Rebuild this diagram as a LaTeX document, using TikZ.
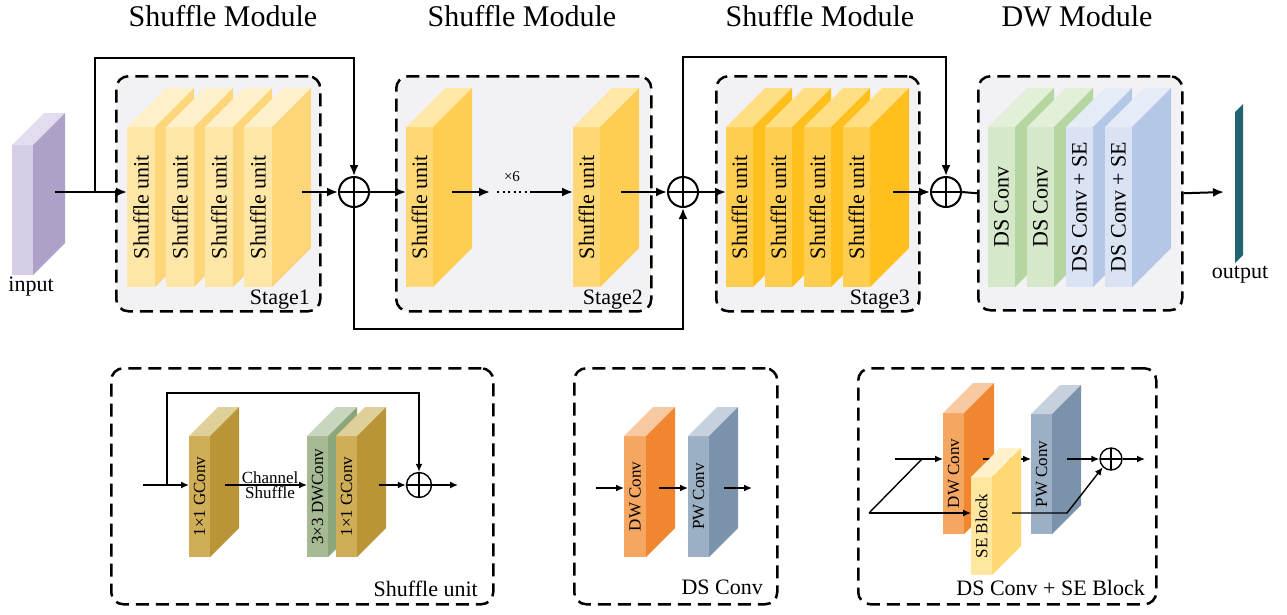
\documentclass[tikz,border=0pt]{standalone}
\usepackage{fontspec}
\setmainfont{Liberation Serif}
\usetikzlibrary{arrows.meta, calc}

% face colours of the slabs (front / side / top)
\definecolor{inpfront}{RGB}{214,206,231}
\definecolor{inpside}{RGB}{173,161,200}
\definecolor{inptop}{RGB}{227,221,239}
\definecolor{safront}{RGB}{254,231,166}
\definecolor{saside}{RGB}{254,214,122}
\definecolor{satop}{RGB}{254,240,202}
\definecolor{sbfront}{RGB}{255,216,118}
\definecolor{sbside}{RGB}{255,205,82}
\definecolor{sbtop}{RGB}{255,232,168}
\definecolor{scfront}{RGB}{255,206,80}
\definecolor{scside}{RGB}{255,192,30}
\definecolor{sctop}{RGB}{255,222,132}
\definecolor{dsgfront}{RGB}{214,232,202}
\definecolor{dsgside}{RGB}{182,214,161}
\definecolor{dsgtop}{RGB}{226,239,217}
\definecolor{dsbfront}{RGB}{218,227,243}
\definecolor{dsbside}{RGB}{180,199,231}
\definecolor{dsbtop}{RGB}{229,235,247}
\definecolor{gcfront}{RGB}{208,174,88}
\definecolor{gcside}{RGB}{186,149,56}
\definecolor{gctop}{RGB}{223,207,152}
\definecolor{gdfront}{RGB}{165,186,146}
\definecolor{gdside}{RGB}{138,166,122}
\definecolor{gdtop}{RGB}{200,214,190}
\definecolor{dwfront}{RGB}{245,166,96}
\definecolor{dwside}{RGB}{240,135,48}
\definecolor{dwtop}{RGB}{248,202,162}
\definecolor{pwfront}{RGB}{156,176,197}
\definecolor{pwside}{RGB}{122,146,170}
\definecolor{pwtop}{RGB}{198,209,221}
\definecolor{sefront}{RGB}{255,231,160}
\definecolor{seside}{RGB}{254,216,115}
\definecolor{setop}{RGB}{255,241,203}
\definecolor{outcol}{RGB}{34,99,115}
\definecolor{boxfill}{RGB}{242,242,246}

% slab: name, x, y, width, height, depth, colour set, label
\newcommand{\slab}[8]{%
  \node[face, fill=#7front, minimum width=#4pt, minimum height=#5pt,
        anchor=north west] (#1) at (#2,#3) {};
  \fill[#7top] (#1.north west) -- (#1.north east) -- ++(#6,-#6)
               -- ++(-#4,0) -- cycle;
  \fill[#7side] (#1.north east) -- ++(#6,-#6) -- ++(0,#5)
                -- (#1.south east) -- cycle;
  \node[rotate=90, inner sep=0pt] (#1-lbl) at (#1.center) {#8};
}
\newcommand{\labfont}{\fontsize{17}{19}\selectfont}

\begin{document}
\begin{tikzpicture}[x=1pt, y=-1pt,
    font=\fontsize{22}{24}\selectfont,
    face/.style={rectangle, inner sep=0pt, outer sep=0pt},
    modbox/.style={rectangle, draw=black, line width=2.5pt,
                   dash pattern=on 13pt off 7pt, rounded corners=12pt,
                   inner sep=0pt, anchor=north west},
    flow/.style={-{Latex[length=11pt,width=9pt]}, line width=2pt},
    thinflow/.style={-{Latex[length=8pt,width=7pt]}, line width=1.4pt},
    oplus/.style={circle, draw=black, fill=white, line width=2pt,
                  minimum size=30pt, inner sep=0pt,
                  path picture={\draw
                    (path picture bounding box.north) -- (path picture bounding box.south)
                    (path picture bounding box.west) -- (path picture bounding box.east);}},
    soplus/.style={oplus, line width=1.4pt, minimum size=25pt},
    title/.style={font=\fontsize{30}{34}\selectfont},
    tag/.style={anchor=base east, inner sep=0pt},
]
\useasboundingbox (0,0) rectangle (1287,614);

% ======================================================
% Top row: input, three shuffle stages, DW module, output
% ======================================================
\node[title] (t1) at (223,16) {Shuffle Module};
\node[title] (t2) at (522,16) {Shuffle Module};
\node[title] (t3) at (820,16) {Shuffle Module};
\node[title] (t4) at (1077,16) {DW Module};

\node[modbox, fill=boxfill, minimum width=204pt, minimum height=235pt] (stage1) at (115,75) {};
\node[modbox, fill=boxfill, minimum width=255pt, minimum height=235pt] (stage2) at (395,75) {};
\node[modbox, fill=boxfill, minimum width=203pt, minimum height=235pt] (stage3) at (715,75) {};
\node[modbox, fill=boxfill, minimum width=204pt, minimum height=234pt] (dwmod) at (977,75) {};

\slab{inp}{12}{145}{21}{130}{32}{inp}{}
\node[anchor=base] (inp-lbl) at (31,291) {input};

% stage 1: four shuffle units
\foreach \x [count=\i from 0] in {127,166,205,244} {
  \slab{s1u\i}{\x}{127}{28}{160}{39}{sa}{Shuffle unit}
}
% stage 2: first and last of the repeated units
\slab{s2u0}{406}{127}{27}{160}{39}{sb}{Shuffle unit}
\slab{s2u1}{573}{127}{27}{160}{39}{sb}{Shuffle unit}
% stage 3
\foreach \x [count=\i from 0] in {726,765,804,843} {
  \slab{s3u\i}{\x}{127}{27}{160}{39}{sc}{Shuffle unit}
}
% DW module: two plain DS convs, two with SE
\foreach \x [count=\i from 0] in {988,1027} {
  \slab{dwg\i}{\x}{127}{27}{160}{39}{dsg}{DS Conv}
}
\foreach \x [count=\i from 0] in {1066,1105} {
  \slab{dwb\i}{\x}{127}{27}{160}{39}{dsb}{DS Conv + SE}
}

\node[tag] (stage1-tag) at (310,304) {Stage1};
\node[tag] (stage2-tag) at (643,304) {Stage2};
\node[tag] (stage3-tag) at (910,304) {Stage3};

\fill[outcol] (1235,112) -- (1243,104) -- (1243,255) -- (1235,263) -- cycle;
\node[anchor=base] (out-lbl) at (1240,278) {output};

\node[oplus] (add1) at (354,192) {};
\node[oplus] (add2) at (683,192) {};
\node[oplus] (add3) at (946,192) {};

% main flow and skip connections
\coordinate (inp-out) at (55,192);
\coordinate (skip1) at (95,192);
\draw[flow] (inp-out) -- (s1u0.west |- inp-out);
\draw[flow] (skip1) -- ++(0,-134) -| (add1.north);

\coordinate (s1-out) at (302,192);
\draw[flow] (s1-out) -- (add1.west);
\draw[flow] (add1.east) -- (s2u0.west |- add1);
\draw[flow] (add1.south) -- ++(0,121) -| (add2.south);

\coordinate (s2a-out) at (452,192);
\coordinate (rep-in) at (490,192);
\coordinate (dots-a) at (497,192);
\coordinate (dots-b) at (530,192);
\draw[flow] (s2a-out) -- (rep-in);
\draw[line width=2pt, dash pattern=on 2pt off 3.5pt] (dots-a) -- (dots-b);
\draw[flow] (dots-b) -- (s2u1.west |- dots-b);
\node[font=\fontsize{15}{17}\selectfont] (rep) at (512,177) {×6};

\coordinate (s2b-out) at (621,192);
\draw[flow] (s2b-out) -- (add2.west);
\draw[flow] (add2.east) -- (s3u0.west |- add2);
\draw[flow] (add2.north) -- ++(0,-119) -| (add3.north);

\coordinate (s3-out) at (893,192);
\draw[flow] (s3-out) -- (add3.west);
\draw[line width=2pt] (add3.east) -- (dwmod.west);
\coordinate (outp) at (1224,192);
\draw[flow] (dwmod.east) -- (outp);

% ======================================================
% Bottom row: shuffle unit, DS conv, DS conv + SE block
% ======================================================
\node[modbox, minimum width=382pt, minimum height=236pt] (subox) at (110,367) {};
\node[modbox, minimum width=203pt, minimum height=236pt] (dsbox) at (573,367) {};
\node[modbox, minimum width=298pt, minimum height=236pt] (dssebox) at (857,367) {};

% shuffle unit
\slab{g1}{189}{436}{21}{121}{29}{gc}{\labfont 1×1 GConv}
\slab{dwc}{307}{436}{21}{121}{29}{gd}{\labfont 3×3 DWConv}
\slab{g2}{336}{436}{21}{121}{29}{gc}{\labfont 1×1 GConv}
\node[soplus] (sadd) at (419,485) {};

\coordinate (su-in) at (143,485);
\coordinate (su-split) at (167,485);
\draw[thinflow] (su-in) -- (g1.west |- su-in);
\draw[thinflow] (su-split) -- ++(0,-92) -| (sadd.north);
\coordinate (g1-out) at (225,485);
\draw[thinflow] (g1-out) -- (dwc.west |- g1-out)
  node[pos=0.55, above, inner sep=1pt] (chan) {\labfont Channel}
  node[pos=0.55, below, inner sep=1pt] (shuf) {\labfont Shuffle};
\coordinate (g2-out) at (379,485);
\draw[thinflow] (g2-out) -- (sadd.west);
\coordinate (su-end) at (458,485);
\draw[thinflow] (sadd.east) -- (su-end);
\node[tag] (su-tag) at (478,596) {Shuffle unit};

% DS conv
\slab{dwa}{624}{436}{22}{121}{29}{dw}{\labfont DW Conv}
\slab{pwa}{688}{436}{21}{121}{29}{pw}{\labfont PW Conv}
\coordinate (ds-in) at (596,488);
\coordinate (dwa-out) at (659,488);
\coordinate (pwa-out) at (724,488);
\coordinate (ds-end) at (752,488);
\draw[thinflow] (ds-in) -- (dwa.west |- ds-in);
\draw[thinflow] (dwa-out) -- (pwa.west |- dwa-out);
\draw[thinflow] (pwa-out) -- (ds-end);
\node[tag] (ds-tag) at (763,594) {DS Conv};

% DS conv + SE block
\slab{dwb}{943}{413}{21}{121}{30}{dw}{\labfont DW Conv}
\slab{pwb}{1031}{414}{21}{120}{29}{pw}{\labfont PW Conv}
\coordinate (dwb-out) at (983,459);
\draw[thinflow] (dwb-out) -- (pwb.west |- dwb-out);
\slab{seb}{971}{477}{21}{98}{29}{se}{\labfont SE Block}
\node[soplus, minimum size=22pt] (seadd) at (1111,459) {};

\coordinate (se-in) at (869,513);
\coordinate (se-fork) at (922,459);
\coordinate (se-top) at (895,459);
\draw[line width=1.4pt] (se-in) -- (se-fork);
\draw[thinflow] (se-top) -- (dwb.west |- se-top);
\draw[thinflow] (se-in) -- (seb.west |- se-in);
\coordinate (seb-out) at (1012,513);
\draw[thinflow] (seb-out) -- ++(55,0) -- (seadd.south west);
\coordinate (pwb-out) at (1067,459);
\draw[thinflow] (pwb-out) -- (seadd.west);
\coordinate (se-end) at (1145,459);
\draw[thinflow] (seadd.east) -- (se-end);
\node[tag] (dsse-tag) at (1145,595) {DS Conv + SE Block};

\end{tikzpicture}
\end{document}
